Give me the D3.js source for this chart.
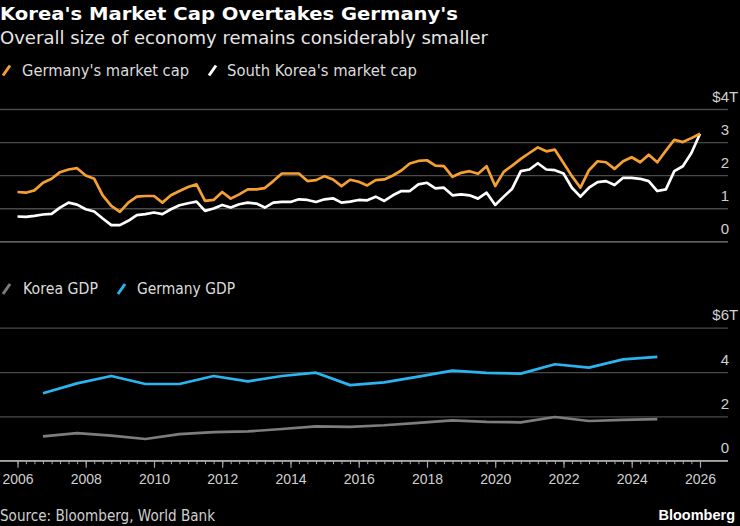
<!DOCTYPE html>
<html><head><meta charset="utf-8">
<script src="https://cdn.jsdelivr.net/npm/d3@7"></script>
<style>html,body{margin:0;padding:0;background:#000;} svg{display:block;}</style>
</head><body><svg id="c" width="740" height="526"></svg>
<script>
// ---- data ----
const quarters = [
"2006Q1","2006Q2","2006Q3","2006Q4","2007Q1","2007Q2","2007Q3","2007Q4",
"2008Q1","2008Q2","2008Q3","2008Q4","2009Q1","2009Q2","2009Q3","2009Q4",
"2010Q1","2010Q2","2010Q3","2010Q4","2011Q1","2011Q2","2011Q3","2011Q4",
"2012Q1","2012Q2","2012Q3","2012Q4","2013Q1","2013Q2","2013Q3","2013Q4",
"2014Q1","2014Q2","2014Q3","2014Q4","2015Q1","2015Q2","2015Q3","2015Q4",
"2016Q1","2016Q2","2016Q3","2016Q4","2017Q1","2017Q2","2017Q3","2017Q4",
"2018Q1","2018Q2","2018Q3","2018Q4","2019Q1","2019Q2","2019Q3","2019Q4",
"2020Q1","2020Q2","2020Q3","2020Q4","2021Q1","2021Q2","2021Q3","2021Q4",
"2022Q1","2022Q2","2022Q3","2022Q4","2023Q1","2023Q2","2023Q3","2023Q4",
"2024Q1","2024Q2","2024Q3","2024Q4","2025Q1","2025Q2","2025Q3","2025Q4",
"2026Q1"];
const germanyCap = [
1.49,1.47,1.54,1.77,1.89,2.09,2.17,2.21,1.99,1.89,1.39,1.07,0.89,1.17,1.35,1.37,
1.37,1.17,1.39,1.52,1.64,1.72,1.22,1.25,1.49,1.29,1.42,1.57,1.57,1.61,1.82,2.05,
2.05,2.05,1.82,1.85,1.97,1.87,1.67,1.86,1.80,1.69,1.85,1.87,1.99,2.14,2.35,2.43,
2.45,2.29,2.27,1.95,2.07,2.12,2.04,2.27,1.67,2.10,2.29,2.49,2.67,2.84,2.72,2.77,
2.37,1.97,1.62,2.15,2.42,2.39,2.19,2.42,2.54,2.39,2.62,2.39,2.74,3.07,3.00,3.12,
3.25];
const koreaCap = [
0.75,0.74,0.77,0.81,0.83,1.02,1.17,1.11,0.97,0.90,0.69,0.49,0.49,0.62,0.79,0.82,
0.87,0.82,0.97,1.09,1.15,1.20,0.92,0.99,1.10,1.02,1.12,1.17,1.14,1.02,1.17,1.19,
1.19,1.27,1.25,1.19,1.27,1.30,1.17,1.20,1.25,1.24,1.35,1.22,1.39,1.52,1.52,1.72,
1.77,1.60,1.62,1.39,1.42,1.39,1.29,1.47,1.10,1.35,1.59,2.12,2.17,2.36,2.17,2.15,
2.05,1.62,1.35,1.62,1.79,1.82,1.70,1.92,1.92,1.89,1.82,1.52,1.57,2.12,2.27,2.67,
3.25];
const gdpYears = [2006,2007,2008,2009,2010,2011,2012,2013,2014,2015,2016,2017,2018,2019,2020,2021,2022,2023,2024];
const koreaGdp   = [1.10,1.24,1.13,0.98,1.20,1.29,1.32,1.43,1.55,1.53,1.60,1.71,1.82,1.75,1.73,1.97,1.79,1.84,1.88];
const germanyGdp = [3.04,3.49,3.82,3.46,3.46,3.82,3.58,3.82,3.97,3.41,3.53,3.79,4.06,3.96,3.93,4.35,4.20,4.57,4.68];
const capTicks = [0,1,2,3,4];
const gdpTicks = [0,2,4,6];

// ---- colours ----
const C_GER_CAP = "#f5a031", C_KOR_CAP = "#ffffff", C_KOR_GDP = "#7d7d7d", C_GER_GDP = "#2ab4f0";
const FONT = "'DejaVu Sans', sans-serif";
const NUMFONT = "'Liberation Sans', Arial, sans-serif";

const svg = d3.select("#c");
svg.append("rect").attr("width",740).attr("height",526).attr("fill","#000");

const qDate = q => new Date(+q.slice(0,4), (+q.slice(5)-1)*3, 1);
const yDate = y => new Date(y, 9, 1);

const x = d3.scaleTime().domain([new Date(2006,0,1), new Date(2026,0,1)]).range([17.5, 700]);
const yCap = d3.scaleLinear().domain([0,4]).range([241.3, 109]);
const yGdp = d3.scaleLinear().domain([0,6]).range([460.7, 327.7]);

// ---- texts ----
function txt(t, xx, yy, size, fill, weight, len, anchor, family){
  const e = svg.append("text").attr("x",xx).attr("y",yy).text(t)
    .style("font-family",family||FONT).style("font-size",size+"px").attr("fill",fill)
    .style("font-weight",weight||"normal").attr("text-anchor",anchor||"start");
  if(len) e.attr("textLength",len).attr("lengthAdjust","spacingAndGlyphs");
  return e;
}
txt("Korea's Market Cap Overtakes Germany's", 0, 19.5, 18, "#ffffff", "bold", 458);
txt("Overall size of economy remains considerably smaller", 0, 43.5, 18, "#e6e6e6", "normal", 488);

function legendIcon(x0, yb, color){
  svg.append("line").attr("x1",x0).attr("y1",yb).attr("x2",x0+7).attr("y2",yb-10)
    .attr("stroke",color).attr("stroke-width",3);
}
legendIcon(3, 75.5, C_GER_CAP);
txt("Germany's market cap", 22, 76, 15.5, "#dcdcdc", "normal", 167);
legendIcon(209, 75.5, C_KOR_CAP);
txt("South Korea's market cap", 227, 76, 15.5, "#dcdcdc", "normal", 190);

legendIcon(3, 294, C_KOR_GDP);
txt("Korea GDP", 23, 294.3, 15.5, "#dcdcdc", "normal", 75);
legendIcon(118, 294, C_GER_GDP);
txt("Germany GDP", 137, 294.3, 15.5, "#dcdcdc", "normal", 98);

txt("Source: Bloomberg, World Bank", 0, 520.5, 15, "#cfcfcf", "normal", 215);
txt("Bloomberg", 735, 520, 14.5, "#ffffff", "bold", null, "end", NUMFONT);

// ---- gridlines + right labels ----
function grid(scale, ticks, zeroColor){
  const g = svg.append("g").attr("transform","translate(728,0)")
    .call(d3.axisRight(scale).tickValues(ticks).tickSize(-728).tickFormat(d3.format("d")));
  g.select(".domain").remove();
  g.selectAll(".tick line").attr("stroke", d => d===0 ? zeroColor : "#4a4a4a").attr("stroke-width",1.3);
  g.selectAll(".tick text").attr("x",1).attr("y",-12.6).attr("text-anchor","end")
    .attr("fill","#d0d0d0").style("font-family",NUMFONT).style("font-size","15px");
  const top = ticks[ticks.length-1];
  g.selectAll(".tick text").filter(d => d===top).text(d => "$"+d+"T").each(function(){
    const w = this.getSubStringLength(this.getNumberOfChars()-1,1);
    d3.select(this).attr("x", 1 + w);
  });
  return g;
}
grid(yCap, capTicks, "#808080");
grid(yGdp, gdpTicks, "#a0a0a0");

// ---- x axis ----
const xa = svg.append("g").attr("transform","translate(0,460.7)");
xa.append("line").attr("x1",0).attr("x2",728).attr("stroke","#a8a8a8").attr("stroke-width",1.4);
const minor = xa.append("g").call(d3.axisBottom(x).ticks(d3.timeMonth.every(3)).tickSize(3.5).tickFormat(""));
minor.select(".domain").remove();
minor.selectAll(".tick line").attr("stroke","#a8a8a8").attr("stroke-width",1);
const major = xa.append("g").call(d3.axisBottom(x).ticks(d3.timeYear.every(2)).tickSize(7).tickFormat(d3.timeFormat("%Y")));
major.select(".domain").remove();
major.selectAll(".tick line").attr("stroke","#a8a8a8").attr("stroke-width",1.2);
major.selectAll(".tick text").attr("y",13.5).attr("fill","#d0d0d0")
  .style("font-family",NUMFONT).style("font-size","14px");

// ---- lines ----
const capLine = arr => d3.line().x((d,i)=>x(qDate(quarters[i]))).y(d=>yCap(d))(arr);
const gdpLine = arr => d3.line().x((d,i)=>x(yDate(gdpYears[i]))).y(d=>yGdp(d))(arr);
function path(dstr, color){
  svg.append("path").attr("d",dstr).attr("fill","none").attr("stroke",color)
    .attr("stroke-width",2.7).attr("stroke-linejoin","round");
}
path(capLine(koreaCap), C_KOR_CAP);
path(capLine(germanyCap), C_GER_CAP);
path(gdpLine(koreaGdp), C_KOR_GDP);
path(gdpLine(germanyGdp), C_GER_GDP);
</script>
</body></html>
